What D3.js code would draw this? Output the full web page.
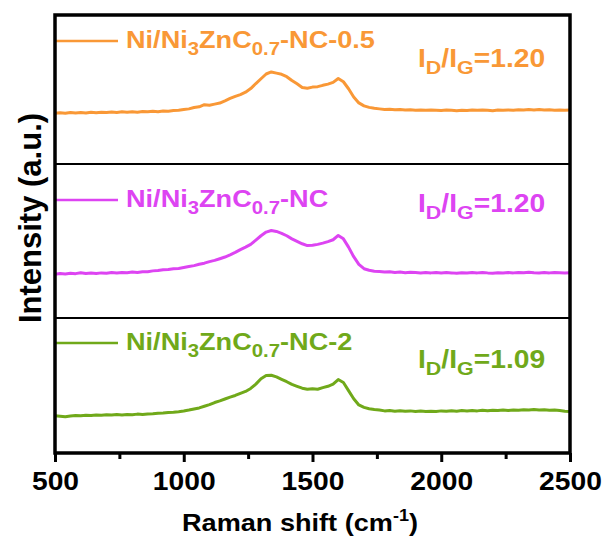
<!DOCTYPE html>
<html>
<head>
<meta charset="utf-8">
<script src="https://cdn.jsdelivr.net/npm/d3@7"></script>
<style>
  body { margin: 0; background: #fff; }
  text { font-family: "Liberation Sans", Arial, sans-serif; font-weight: bold; }
</style>
</head>
<body>
<svg id="chart" width="603" height="540"></svg>
<script>
// Raman shift grid, cm-1
const shift = d3.range(500, 2501, 20)

// intensities, a.u. (0..100 inside each panel)
const nc05 = [
  34.0, 34.4, 34.1, 34.6, 34.3, 34.5, 34.2, 34.7, 34.4, 34.8,
  34.5, 34.9, 34.6, 35.0, 34.7, 35.1, 34.8, 35.2, 35.0, 35.4,
  35.1, 35.6, 35.4, 35.9, 36.1, 36.6, 37.0, 37.9, 38.4, 39.8,
  39.4, 40.2, 40.9, 42.4, 44.0, 45.4, 46.6, 48.2, 50.6, 54.0,
  57.2, 60.4, 61.8, 61.0, 60.2, 58.6, 56.0, 53.8, 51.4, 50.9,
  51.6, 51.9, 52.8, 53.6, 54.8, 57.4, 55.2, 50.5, 45.0, 41.0,
  39.0, 38.0, 37.4, 37.0, 36.6, 36.8, 36.4, 36.5, 36.2, 36.4,
  36.1, 36.3, 36.0, 36.3, 36.1, 35.9, 36.2, 36.0, 35.8, 36.1,
  35.9, 36.2, 36.0, 36.3, 36.1, 35.8, 36.2, 36.0, 36.3, 36.1,
  36.4, 36.2, 36.5, 36.3, 36.6, 36.2, 36.4, 36.1, 36.3, 36.0,
  36.2
]
const nc1 = [
  28.4, 28.9, 28.6, 29.0, 28.8, 29.4, 28.9, 29.2, 28.9, 29.3,
  29.1, 29.5, 29.2, 29.6, 29.4, 29.8, 29.6, 30.1, 30.0, 30.6,
  30.8, 31.3, 31.5, 32.0, 32.2, 32.8, 33.4, 34.0, 34.9, 35.6,
  36.6, 37.4, 38.5, 39.6, 41.0, 42.6, 44.4, 46.0, 47.8, 50.6,
  53.4, 55.8, 56.8, 56.2, 55.0, 53.4, 51.4, 49.8, 48.2, 47.0,
  47.2, 47.8, 48.6, 49.6, 50.8, 53.6, 51.4, 46.0, 39.8, 34.8,
  32.0, 31.0, 30.4, 30.2, 29.8, 30.0, 29.6, 29.8, 29.4, 29.7,
  29.5, 29.2, 29.5, 29.3, 29.6, 29.2, 29.5, 29.3, 29.0, 29.4,
  29.2, 29.5, 29.3, 29.6, 29.3, 29.1, 29.4, 29.2, 29.5, 29.3,
  29.6, 29.4, 29.7, 29.4, 29.2, 29.5, 29.3, 29.6, 29.4, 29.2,
  29.4
]
const nc2 = [
  27.6, 27.2, 26.8, 27.4, 27.8, 27.6, 28.0, 27.8, 28.2, 28.0,
  28.3, 28.1, 28.5, 28.2, 28.6, 28.4, 28.8, 28.5, 28.9, 29.1,
  29.4, 29.6, 30.0, 30.2, 30.6, 31.1, 31.8, 32.6, 33.4, 34.6,
  35.8, 37.4, 38.6, 40.0, 41.4, 42.6, 44.2, 45.6, 47.8, 51.0,
  55.0, 57.4, 57.6, 56.4, 54.6, 52.8, 50.8, 49.4, 48.0, 47.2,
  47.6, 47.2, 48.4, 49.4, 51.0, 54.4, 52.2, 46.2, 40.2, 35.6,
  33.8, 32.8, 32.2, 31.8, 31.2, 31.5, 31.0, 31.3, 30.9, 31.2,
  30.8, 31.1, 30.7, 31.0, 30.8, 31.2, 30.9, 31.3, 31.0, 31.4,
  31.1, 31.5, 31.2, 31.6, 31.3, 31.7, 31.4, 31.8, 31.5, 31.9,
  31.6, 32.0, 31.8, 32.2, 31.9, 32.1, 31.6, 31.8, 31.4, 31.0,
  30.8
]

const sampleSuffix = ['-0.5', '', '-2']
const ratioLabels = ['1.20', '1.20', '1.09']
const colors = ['#F99836', '#DD44F2', '#70A91A']
const majorTicks = [500, 1000, 1500, 2000, 2500]
const minorTicks = [750, 1250, 1750, 2250]

// layout
const left = 55, right = 570
const bands = [[15, 164], [164, 318], [318, 453]]
const legendY = [41, 200, 343]
const ratioY = [67, 212, 368]
const stretch = 'scale(1.13,1)' // the source figure's lettering is a bit wide

const svg = d3.select('#chart')
const x = d3.scaleLinear().domain([500, 2500]).range([left, right])

const series = [nc05, nc1, nc2]

series.forEach(function (vals, i) {
  const y = d3.scaleLinear().domain([0, 100]).range([bands[i][1], bands[i][0]])
  const line = d3.line()
    .x(function (d, k) { return x(shift[k]) })
    .y(function (d) { return y(d) })

  svg.append('path')
    .datum(vals)
    .attr('d', line)
    .attr('fill', 'none')
    .attr('stroke', colors[i])
    .attr('stroke-width', 3)
    .attr('stroke-linejoin', 'round')

  // legend: short line + sample name
  svg.append('line')
    .attr('x1', left + 1).attr('x2', 118)
    .attr('y1', legendY[i]).attr('y2', legendY[i])
    .attr('stroke', colors[i]).attr('stroke-width', 2.6)

  const t = svg.append('g')
    .attr('transform', 'translate(126,' + (legendY[i] + 7) + ') ' + stretch)
    .append('text')
    .attr('fill', colors[i]).attr('font-size', 24)
  t.append('tspan').text('Ni/Ni')
  t.append('tspan').attr('font-size', 18).attr('dy', 7).text('3')
  t.append('tspan').attr('dy', -7).text('ZnC')
  t.append('tspan').attr('font-size', 18).attr('dy', 7).text('0.7')
  t.append('tspan').attr('dy', -7).text('-NC' + sampleSuffix[i])

  const r = svg.append('g')
    .attr('transform', 'translate(418,' + ratioY[i] + ') ' + stretch)
    .append('text')
    .attr('fill', colors[i]).attr('font-size', 25)
  r.append('tspan').text('I')
  r.append('tspan').attr('font-size', 19).attr('dy', 7).text('D')
  r.append('tspan').attr('dy', -7).text('/I')
  r.append('tspan').attr('font-size', 19).attr('dy', 7).text('G')
  r.append('tspan').attr('dy', -7).text('=' + ratioLabels[i])
})

// panel dividers
svg.selectAll('line.divider')
  .data([bands[0][1], bands[1][1]])
  .join('line')
  .attr('class', 'divider')
  .attr('x1', left).attr('x2', right)
  .attr('y1', function (d) { return d }).attr('y2', function (d) { return d })
  .attr('stroke', '#000').attr('stroke-width', 2)

// frame
svg.append('rect')
  .attr('x', left).attr('y', bands[0][0])
  .attr('width', right - left).attr('height', bands[2][1] - bands[0][0])
  .attr('fill', 'none').attr('stroke', '#000').attr('stroke-width', 3.5)

// x axis ticks
const axisY = bands[2][1]
const major = svg.append('g')
  .attr('transform', 'translate(0,' + axisY + ')')
  .call(d3.axisBottom(x).tickValues(majorTicks).tickSize(9).tickPadding(10).tickFormat(d3.format('d')))
const minor = svg.append('g')
  .attr('transform', 'translate(0,' + axisY + ')')
  .call(d3.axisBottom(x).tickValues(minorTicks).tickSize(6).tickFormat(''))
;[major, minor].forEach(function (g) {
  g.select('.domain').remove()
  g.selectAll('line').attr('stroke', '#000').attr('stroke-width', 3)
})
major.selectAll('text')
  .attr('font-size', 25).attr('fill', '#000')
  .attr('font-family', '"Liberation Sans", Arial, sans-serif').attr('font-weight', 'bold')
  .attr('transform', stretch)

// axis titles
const xt = svg.append('g')
  .attr('transform', 'translate(300,531) ' + stretch)
  .append('text')
  .attr('text-anchor', 'middle').attr('font-size', 24).attr('fill', '#000')
xt.append('tspan').text('Raman shift (cm')
xt.append('tspan').attr('font-size', 16).attr('dy', -10).text('-1')
xt.append('tspan').attr('dy', 10).text(')')

svg.append('text')
  .attr('transform', 'translate(41,218) rotate(-90)')
  .attr('text-anchor', 'middle').attr('font-size', 31).attr('fill', '#000')
  .text('Intensity (a.u.)')
</script>
</body>
</html>
